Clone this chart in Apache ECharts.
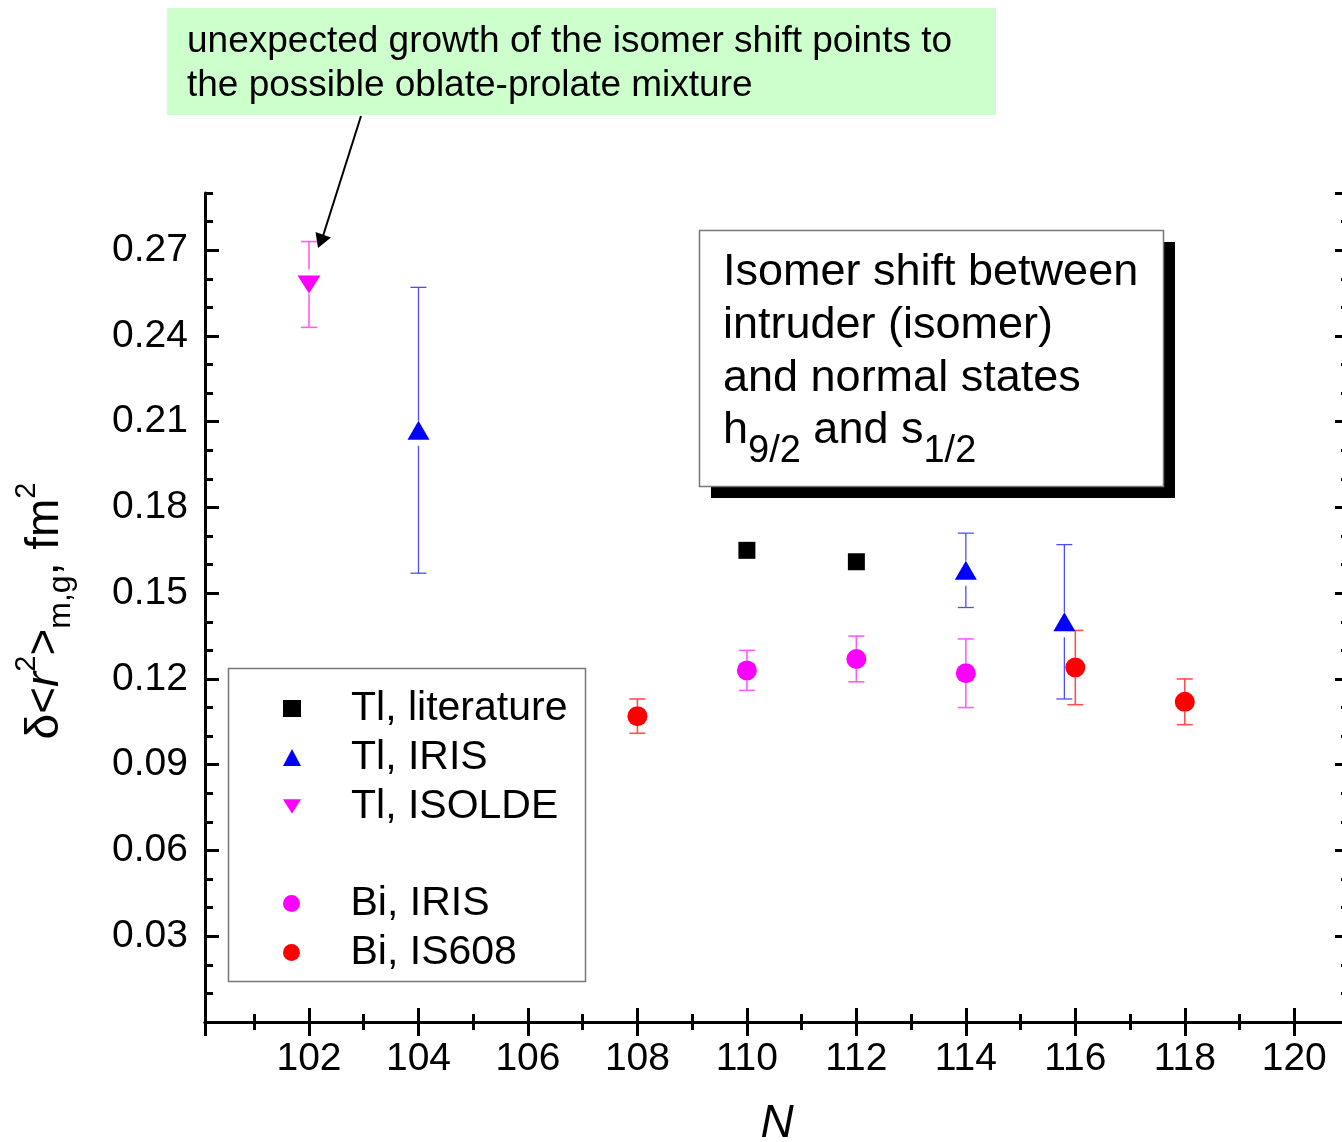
<!DOCTYPE html>
<html>
<head>
<meta charset="utf-8">
<script src="https://cdn.jsdelivr.net/npm/echarts@6/dist/echarts.min.js"></script>
<style>
  html, body { margin: 0; padding: 0; background: #fff; overflow: hidden; }
  #chart { width: 1342px; height: 1142px; }
</style>
</head>
<body>
<div id="chart"></div>
<script>
// Neutron number N, isomer shift (fm^2) and its uncertainty for each data set
const tlLitN = [110, 112];
const tlLitShift = [0.165, 0.161];

const tlIrisN = [104, 114, 115.8];
const tlIrisShift = [0.207, 0.158, 0.140];
const tlIrisErr = [0.050, 0.013, 0.027];

const tlIsoldeN = [102];
const tlIsoldeShift = [0.258];
const tlIsoldeErr = [0.015];

const biIrisN = [110, 112, 114];
const biIrisShift = [0.123, 0.127, 0.122];
const biIrisErr = [0.007, 0.008, 0.012];

const biIs608N = [108, 116, 118];
const biIs608Shift = [0.107, 0.124, 0.112];
const biIs608Err = [0.006, 0.013, 0.008];

const legendTl = ['Tl, literature', 'Tl, IRIS', 'Tl, ISOLDE'];
const legendBi = ['Bi, IRIS', 'Bi, IS608'];

const FONT = '"Liberation Sans", Arial, sans-serif';

function points(ns, vs) { return ns.map((n, i) => [n, vs[i]]); }
function bars(ns, vs, es) { return ns.map((n, i) => [n, vs[i], es[i]]); }

// Error bars with caps; the vertical stroke stops short of the marker
function errorBars(gapUp, gapDown, color, width) {
  return function (params, api) {
    const n = api.value(0), v = api.value(1), e = api.value(2);
    const c = api.coord([n, v]);
    const hi = api.coord([n, v + e]);
    const lo = api.coord([n, v - e]);
    const cap = 8;
    const style = { stroke: color, lineWidth: width };
    const kids = [
      { type: 'line', shape: { x1: c[0] - cap, y1: hi[1], x2: c[0] + cap, y2: hi[1] }, style },
      { type: 'line', shape: { x1: c[0] - cap, y1: lo[1], x2: c[0] + cap, y2: lo[1] }, style }
    ];
    if (hi[1] < c[1] - gapUp) kids.push({ type: 'line', shape: { x1: c[0], y1: hi[1], x2: c[0], y2: c[1] - gapUp }, style });
    if (lo[1] > c[1] + gapDown) kids.push({ type: 'line', shape: { x1: c[0], y1: c[1] + gapDown, x2: c[0], y2: lo[1] }, style });
    return { type: 'group', children: kids };
  };
}

const frameLine = { show: true, lineStyle: { color: '#000', width: 3 } };
const majorTick = { show: true, inside: true, length: 14, lineStyle: { color: '#000', width: 3 } };
const minorTickAx = { show: true, inside: true, length: 8, lineStyle: { color: '#000', width: 3 } };
const xRange = { min: 100.1, max: 121 };
const yRange = { min: 0, max: 0.29 };

function xAxisDef(position, step, isMajor, withLabels) {
  return Object.assign({
    type: 'value', gridIndex: 0, position: position,
    minInterval: step, maxInterval: step, splitNumber: 20,
    axisLine: isMajor ? frameLine : { show: false },
    axisTick: isMajor ? majorTick : minorTickAx,
    splitLine: { show: false },
    axisLabel: withLabels ? {
      show: true, color: '#000', fontSize: 39, fontFamily: FONT, margin: 18,
      showMinLabel: false, showMaxLabel: false
    } : { show: false }
  }, xRange);
}

function yAxisDef(position, step, isMajor, withLabels) {
  return Object.assign({
    type: 'value', gridIndex: 0, position: position, interval: step,
    axisLine: isMajor ? frameLine : { show: false },
    axisTick: isMajor ? majorTick : minorTickAx,
    splitLine: { show: false },
    axisLabel: withLabels ? {
      show: true, color: '#000', fontSize: 39, fontFamily: FONT, margin: 17,
      showMinLabel: false, showMaxLabel: false,
      formatter: v => v.toFixed(2)
    } : { show: false }
  }, yRange);
}

const xBottom = xAxisDef('bottom', 2, true, true);
xBottom.name = 'N';
xBottom.nameLocation = 'middle';
xBottom.nameGap = 79;
xBottom.nameTextStyle = { color: '#000', fontSize: 46, fontStyle: 'italic', fontFamily: FONT };

const legendText = { color: '#000', fontSize: 41, fontFamily: FONT, padding: [0, 0, 0, 45] };

const option = {
  backgroundColor: '#fff',
  animation: false,
  grid: { left: 205, top: 193, right: -7, bottom: 120, containLabel: false, outerBoundsMode: 'none' },
  xAxis: [
    xBottom,
    xAxisDef('bottom', 1, false, false),
    xAxisDef('top', 2, true, false),
    xAxisDef('top', 1, false, false)
  ],
  yAxis: [
    yAxisDef('left', 0.03, true, true),
    yAxisDef('left', 0.01, false, false),
    yAxisDef('right', 0.03, true, false),
    yAxisDef('right', 0.01, false, false)
  ],
  legend: [
    {
      data: legendTl, orient: 'vertical', left: 283, top: 688, padding: 0,
      itemWidth: 18, itemHeight: 17, itemGap: 8, textStyle: legendText
    },
    {
      data: legendBi, orient: 'vertical', left: 283, top: 883, padding: 0,
      itemWidth: 18, itemHeight: 17, itemGap: 8, textStyle: legendText
    }
  ],
  series: [
    {
      name: 'Tl, literature', type: 'scatter', symbol: 'rect', symbolSize: [17, 17],
      itemStyle: { color: '#000', opacity: 1 }, z: 5, data: points(tlLitN, tlLitShift)
    },
    {
      name: 'Tl, IRIS', type: 'scatter', symbol: 'triangle', symbolSize: [22, 19],
      itemStyle: { color: '#0000ff', opacity: 1 }, z: 5, data: points(tlIrisN, tlIrisShift)
    },
    {
      name: 'Tl, ISOLDE', type: 'scatter', symbol: 'path://M0,0L20,0L10,16Z', symbolSize: [23, 18],
      itemStyle: { color: '#ff00ff', opacity: 1 }, z: 5, data: points(tlIsoldeN, tlIsoldeShift)
    },
    {
      name: 'Bi, IRIS', type: 'scatter', symbol: 'circle', symbolSize: 20,
      itemStyle: { color: '#ff00ff', opacity: 1 }, z: 5, data: points(biIrisN, biIrisShift)
    },
    {
      name: 'Bi, IS608', type: 'scatter', symbol: 'circle', symbolSize: 20,
      itemStyle: { color: '#ff0000', opacity: 1 }, z: 5, data: points(biIs608N, biIs608Shift)
    },
    {
      name: 'Tl, IRIS', type: 'custom', z: 3, encode: { x: 0, y: 1 },
      renderItem: errorBars(9.5, 15.5, '#4d4dff', 1.3), data: bars(tlIrisN, tlIrisShift, tlIrisErr)
    },
    {
      name: 'Tl, ISOLDE', type: 'custom', z: 3, encode: { x: 0, y: 1 },
      renderItem: errorBars(15, 9, '#ff5cff', 1.6), data: bars(tlIsoldeN, tlIsoldeShift, tlIsoldeErr)
    },
    {
      name: 'Bi, IRIS', type: 'custom', z: 3, encode: { x: 0, y: 1 },
      renderItem: errorBars(10, 10, '#ff5cff', 1.6), data: bars(biIrisN, biIrisShift, biIrisErr)
    },
    {
      name: 'Bi, IS608', type: 'custom', z: 3, encode: { x: 0, y: 1 },
      renderItem: errorBars(10, 10, '#ff5050', 1.6), data: bars(biIs608N, biIs608Shift, biIs608Err)
    }
  ],
  graphic: [
    // legend frame
    { type: 'rect', z: 1, shape: { x: 228.5, y: 668.5, width: 357, height: 313 },
      style: { fill: 'transparent', stroke: '#777', lineWidth: 1.5 } },
    // description box with drop shadow
    { type: 'rect', z: 10, shape: { x: 711, y: 242, width: 464, height: 256 }, style: { fill: '#000' } },
    { type: 'rect', z: 11, shape: { x: 699.5, y: 230.5, width: 464, height: 256 },
      style: { fill: '#fff', stroke: '#777', lineWidth: 1.5 } },
    { type: 'text', z: 12, x: 723, y: 273,
      style: { text: 'Isomer shift between', font: '45px ' + FONT, fill: '#000', align: 'left', verticalAlign: 'middle' } },
    { type: 'text', z: 12, x: 723, y: 326,
      style: { text: 'intruder (isomer)', font: '45px ' + FONT, fill: '#000', align: 'left', verticalAlign: 'middle' } },
    { type: 'text', z: 12, x: 723, y: 379,
      style: { text: 'and normal states', font: '45px ' + FONT, fill: '#000', align: 'left', verticalAlign: 'middle' } },
    { type: 'text', z: 12, x: 723, y: 431,
      style: {
        text: '{n|h}{sub|9/2}{n| and s}{sub|1/2}', fill: '#000', align: 'left', verticalAlign: 'middle',
        font: '45px ' + FONT,
        rich: {
          n: { font: '45px ' + FONT, fill: '#000' },
          sub: { font: '38px ' + FONT, fill: '#000', padding: [42, 0, 0, 0] }
        }
      } },
    // note above the plot
    { type: 'rect', z: 10, shape: { x: 167, y: 8, width: 829, height: 107 }, style: { fill: '#ccffcc' } },
    { type: 'text', z: 12, x: 187, y: 42,
      style: { text: 'unexpected growth of the isomer shift points to', font: '37px ' + FONT, fill: '#000', align: 'left', verticalAlign: 'middle' } },
    { type: 'text', z: 12, x: 187, y: 86,
      style: { text: 'the possible oblate-prolate mixture', font: '37px ' + FONT, fill: '#000', align: 'left', verticalAlign: 'middle' } },
    // arrow from the note to the ISOLDE point
    { type: 'line', z: 12, shape: { x1: 361, y1: 116, x2: 323, y2: 236 }, style: { stroke: '#000', lineWidth: 2 } },
    { type: 'polygon', z: 12, shape: { points: [[318, 248], [315.5, 232], [331, 237.5]] }, style: { fill: '#000' } },
    // y axis title
    { type: 'text', z: 12, x: 45, y: 611, rotation: Math.PI / 2,
      style: {
        text: '{n|\u03b4<}{i|r}{sup|2}{n|>}{sub|m,g}{n|, fm}{sup|2}',
        fill: '#000', align: 'center', verticalAlign: 'middle', font: '46px ' + FONT,
        rich: {
          n: { font: '46px ' + FONT, fill: '#000' },
          i: { font: 'italic 46px ' + FONT, fill: '#000' },
          sup: { font: '29px ' + FONT, fill: '#000', padding: [0, 0, 36, 0] },
          sub: { font: '32px ' + FONT, fill: '#000', padding: [33, 0, 0, 0] }
        }
      } }
  ]
};

const chart = echarts.init(document.getElementById('chart'), null, { renderer: 'canvas' });
chart.setOption(option);
</script>
</body>
</html>
